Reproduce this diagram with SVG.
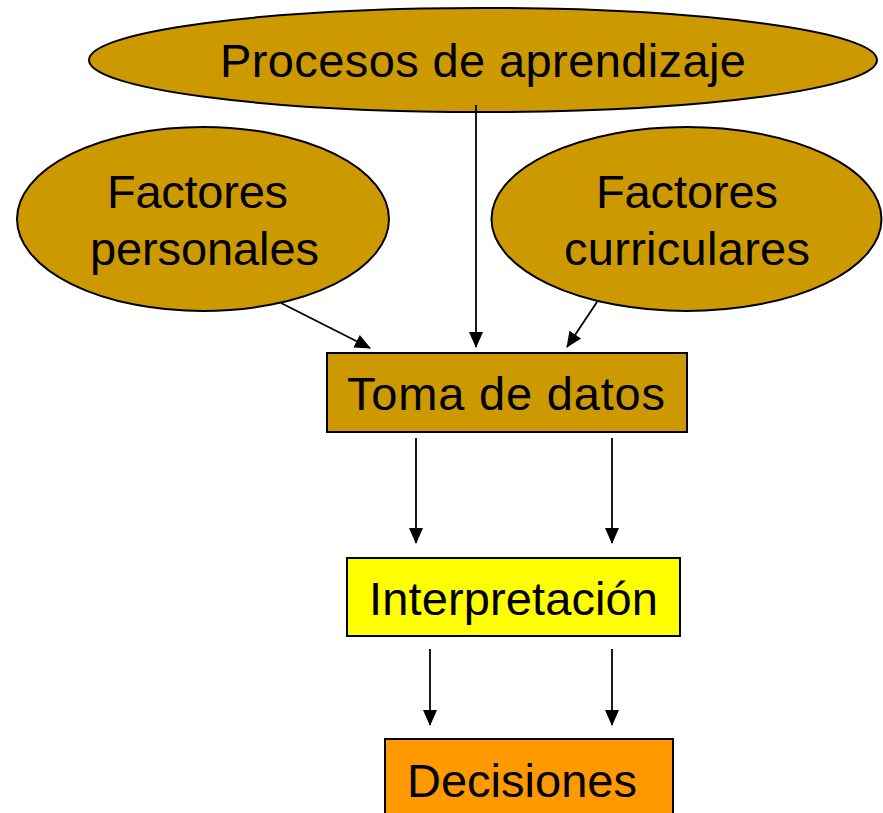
<svg xmlns="http://www.w3.org/2000/svg" width="883" height="813" viewBox="0 0 883 813">
<defs>
<style>
.n{stroke:#000;stroke-width:2}
.t{font-family:"Liberation Sans",Arial,sans-serif;font-size:47px;fill:#000}
.c{stroke:#000;stroke-width:1.8;fill:none;marker-end:url(#ah)}
</style>
<marker id="ah" markerUnits="userSpaceOnUse" markerWidth="16" markerHeight="16" viewBox="0 0 16 16" refX="15" refY="8" orient="auto">
<path d="M0,1 L16,8 L0,15 Z" fill="#000"/>
</marker>
</defs>
<rect width="883" height="813" fill="#fff"/>
<g id="procesos">
<ellipse class="n" cx="483" cy="60" rx="394" ry="52" fill="#CC9900"/>
<text class="t" x="220" y="77" textLength="526">Procesos de aprendizaje</text>
</g>
<g id="personales">
<ellipse class="n" cx="203" cy="219" rx="186" ry="92" fill="#CC9900"/>
<text class="t" x="107" y="208" textLength="181">Factores</text>
<text class="t" x="90" y="265" textLength="229">personales</text>
</g>
<g id="curriculares">
<ellipse class="n" cx="686.5" cy="219" rx="195" ry="92" fill="#CC9900"/>
<text class="t" x="596" y="208" textLength="182">Factores</text>
<text class="t" x="564" y="265" textLength="246">curriculares</text>
</g>
<g id="toma">
<rect class="n" x="327" y="353" width="360" height="79" fill="#CC9900"/>
<text class="t" x="347" y="410" textLength="318">Toma de datos</text>
</g>
<g id="interpretacion">
<rect class="n" x="347" y="558" width="333" height="78" fill="#FFFF00"/>
<text class="t" x="369" y="615" textLength="289">Interpretación</text>
</g>
<g id="decisiones">
<rect class="n" x="385" y="739" width="288" height="80" fill="#FF9900"/>
<text class="t" x="407" y="797" textLength="230">Decisiones</text>
</g>
<g id="connectors">
<line class="c" x1="281" y1="303" x2="370" y2="348"/>
<line class="c" x1="476" y1="105" x2="476" y2="347"/>
<line class="c" x1="597" y1="302" x2="567" y2="347"/>
<line class="c" x1="416" y1="438" x2="416" y2="543"/>
<line class="c" x1="612" y1="438" x2="612" y2="543"/>
<line class="c" x1="430" y1="649" x2="430" y2="725"/>
<line class="c" x1="612" y1="649" x2="612" y2="725"/>
</g>
</svg>
